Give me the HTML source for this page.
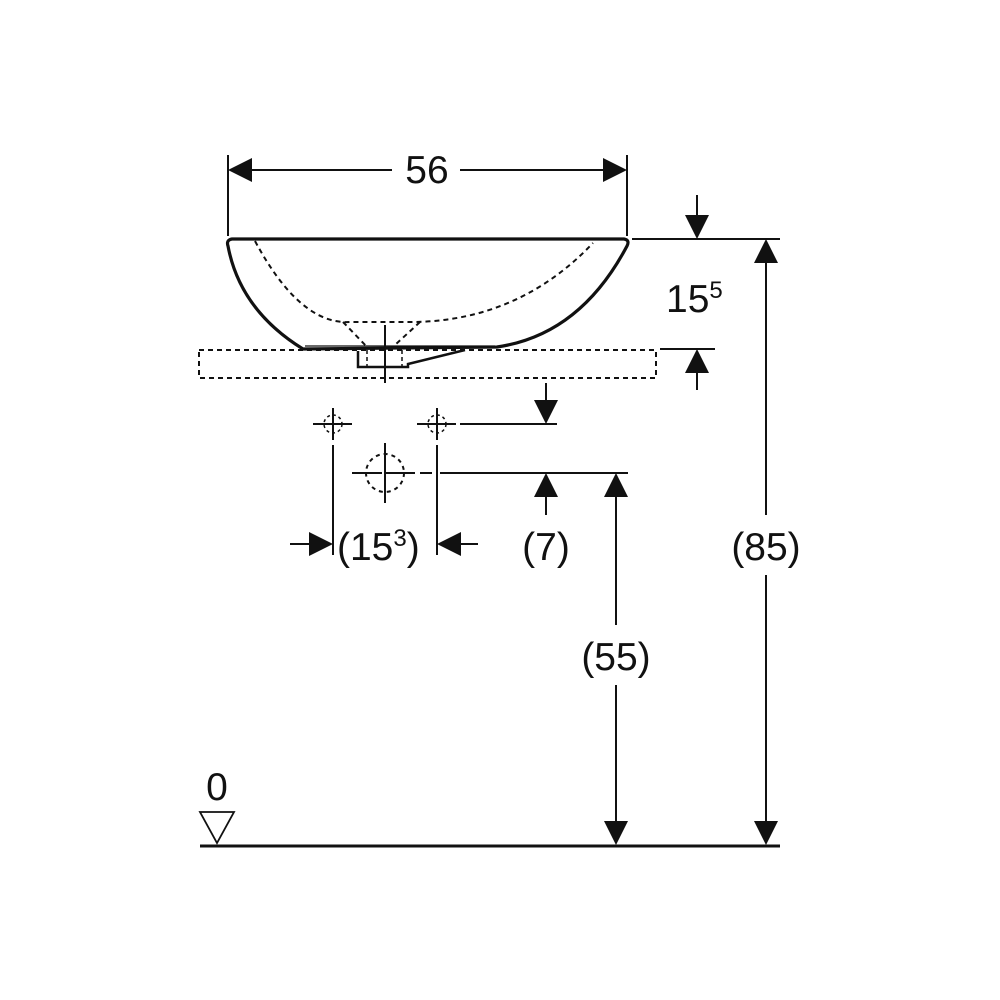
<!DOCTYPE html>
<html><head><meta charset="utf-8"><style>
html,body{margin:0;padding:0;background:#fff;}
svg{display:block;}
text{font-family:"Liberation Sans",sans-serif;fill:#111;}
</style></head><body>
<svg width="1000" height="1000" viewBox="0 0 1000 1000" xmlns="http://www.w3.org/2000/svg">
<g stroke="#111" fill="none">
<!-- 56 dim -->
<line x1="228" y1="155" x2="228" y2="236" stroke-width="2"/>
<line x1="627" y1="155" x2="627" y2="236" stroke-width="2"/>
<path d="M228,170 L252,158 L252,182 z" fill="#111" stroke="none"/>
<path d="M627,170 L603,158 L603,182 z" fill="#111" stroke="none"/>
<line x1="245" y1="170" x2="392" y2="170" stroke-width="2"/>
<line x1="460" y1="170" x2="610" y2="170" stroke-width="2"/>
<!-- bowl -->
<path d="M232,239 L624,239 Q630,240 627,246 Q580,335 497,347 L303,349 Q240,310 228,246 Q226,240 232,239 z" stroke-width="3.2"/>
<line x1="305" y1="346" x2="495" y2="346" stroke-width="1.2"/>
<path d="M255,241 Q300,325 350,322 L415,322 Q520,320 593,243" stroke-width="2" stroke-dasharray="5,4"/>
<path d="M343,322 L368,348 M420,322 L395,345" stroke-width="2" stroke-dasharray="5,4"/>
<!-- counter -->
<rect x="199" y="350" width="457" height="28" stroke-width="2" stroke-dasharray="5,4"/>
<!-- drain -->
<path d="M358,351 L358,367 L408,367 L408,364 L465,350" stroke-width="2.5"/>
<line x1="402" y1="350" x2="402" y2="367" stroke-width="1.5" stroke-dasharray="4,3"/>
<line x1="367" y1="350" x2="367" y2="367" stroke-width="1.5" stroke-dasharray="4,3"/>
<line x1="385" y1="325" x2="385" y2="383" stroke-width="2"/>
<!-- small valve crosses -->
<line x1="333" y1="408" x2="333" y2="440" stroke-width="2"/>
<line x1="313" y1="424" x2="352" y2="424" stroke-width="2"/>
<circle cx="333" cy="424" r="9" stroke-width="1.5" stroke-dasharray="3,3"/>
<line x1="437" y1="408" x2="437" y2="440" stroke-width="2"/>
<line x1="417" y1="424" x2="456" y2="424" stroke-width="2"/>
<circle cx="437" cy="424" r="9" stroke-width="1.5" stroke-dasharray="3,3"/>
<line x1="460" y1="424" x2="557" y2="424" stroke-width="2"/>
<line x1="546" y1="383" x2="546" y2="404" stroke-width="2"/>
<path d="M546,424 L534,400 L558,400 z" fill="#111" stroke="none"/>
<!-- big circle -->
<circle cx="385" cy="473" r="19" stroke-width="2" stroke-dasharray="4,4"/>
<line x1="385" y1="443" x2="385" y2="503" stroke-width="2"/>
<line x1="352" y1="473" x2="418" y2="473" stroke-width="2" stroke-dasharray="30,3"/>
<line x1="420" y1="473" x2="432" y2="473" stroke-width="2"/>
<line x1="440" y1="473" x2="628" y2="473" stroke-width="2"/>
<path d="M546,473 L534,497 L558,497 z" fill="#111" stroke="none"/>
<line x1="546" y1="495" x2="546" y2="515" stroke-width="2"/>
<!-- 15^3 ext -->
<line x1="333" y1="445" x2="333" y2="555" stroke-width="2"/>
<line x1="437" y1="445" x2="437" y2="555" stroke-width="2"/>
<line x1="290" y1="544" x2="315" y2="544" stroke-width="2"/>
<path d="M333,544 L309,532 L309,556 z" fill="#111" stroke="none"/>
<line x1="455" y1="544" x2="478" y2="544" stroke-width="2"/>
<path d="M437,544 L461,532 L461,556 z" fill="#111" stroke="none"/>
<!-- 55 -->
<line x1="616" y1="495" x2="616" y2="625" stroke-width="2"/>
<line x1="616" y1="685" x2="616" y2="825" stroke-width="2"/>
<path d="M616,473 L604,497 L628,497 z" fill="#111" stroke="none"/>
<path d="M616,845 L604,821 L628,821 z" fill="#111" stroke="none"/>
<!-- 85 -->
<line x1="632" y1="239" x2="780" y2="239" stroke-width="2"/>
<line x1="766" y1="260" x2="766" y2="515" stroke-width="2"/>
<line x1="766" y1="575" x2="766" y2="825" stroke-width="2"/>
<path d="M766,239 L754,263 L778,263 z" fill="#111" stroke="none"/>
<path d="M766,845 L754,821 L778,821 z" fill="#111" stroke="none"/>
<!-- 15^5 -->
<line x1="697" y1="195" x2="697" y2="218" stroke-width="2"/>
<path d="M697,239 L685,215 L709,215 z" fill="#111" stroke="none"/>
<line x1="660" y1="349" x2="715" y2="349" stroke-width="2"/>
<path d="M697,349 L685,373 L709,373 z" fill="#111" stroke="none"/>
<line x1="697" y1="370" x2="697" y2="390" stroke-width="2"/>
<!-- ground -->
<line x1="200" y1="846" x2="780" y2="846" stroke-width="3"/>
<path d="M200,812 L234,812 L217,843 z" stroke-width="1.8"/>
</g>
<text x="427" y="183" font-size="39" text-anchor="middle">56</text>
<text x="666" y="312" font-size="39">15<tspan font-size="24" dy="-14">5</tspan></text>
<text x="337" y="560" font-size="39">(15<tspan font-size="24" dy="-14">3</tspan><tspan dy="14">)</tspan></text>
<text x="546" y="560" font-size="39" text-anchor="middle">(7)</text>
<text x="616" y="670" font-size="39" text-anchor="middle">(55)</text>
<text x="766" y="560" font-size="39" text-anchor="middle">(85)</text>
<text x="217" y="800" font-size="39" text-anchor="middle">0</text>
</svg>
</body></html>
